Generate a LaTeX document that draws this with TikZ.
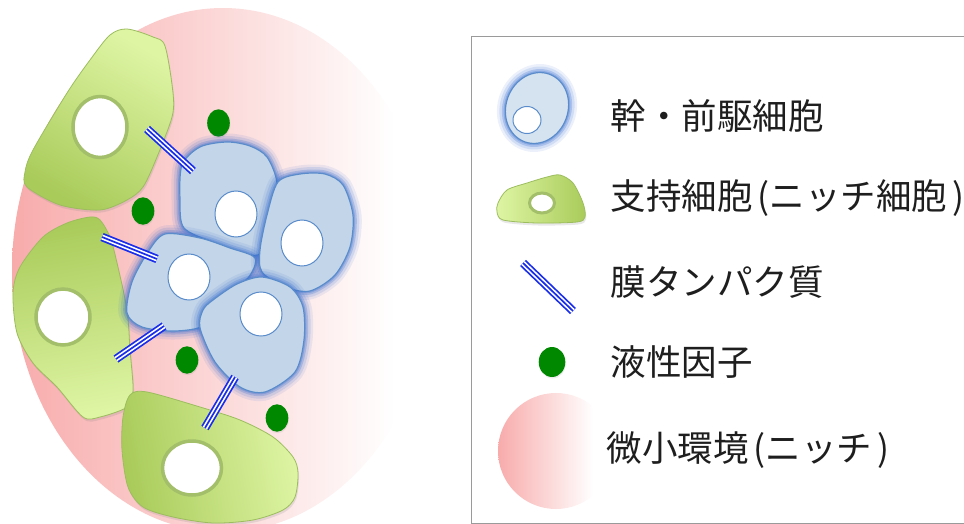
\documentclass[tikz,border=0pt]{standalone}
\usepackage{fontspec}
\setmainfont{Noto Sans CJK JP}
\usetikzlibrary{shadows}

\definecolor{nichepink}{HTML}{F8ABAB}
\definecolor{nichelight}{HTML}{DEF5A4}
\definecolor{nichedark}{HTML}{A9CB5A}
\definecolor{nicheline}{HTML}{9CBD5E}
\definecolor{ringgreen}{HTML}{A3BF6A}
\definecolor{stemfill}{HTML}{C3D5E8}
\definecolor{stemline}{HTML}{5A8CCB}
\definecolor{stemglow}{HTML}{3A6FD0}
\definecolor{factorgreen}{HTML}{008800}
\definecolor{protblue}{HTML}{1A2EEA}
\definecolor{boxgray}{HTML}{9A9A9A}
\definecolor{textgray}{HTML}{1E1E1E}

\begin{document}
\begin{tikzpicture}[x=1pt,y=-1pt,
        niche cell/.style={draw=nicheline,line width=0.8pt,
          drop shadow={opacity=0.18,shadow xshift=1pt,shadow yshift=-2.5pt}},
        stem cell/.style={
          preaction={draw=stemglow,line width=17pt,draw opacity=0.1,line join=round},
          preaction={draw=stemglow,line width=12pt,draw opacity=0.15,line join=round},
          preaction={draw=stemglow,line width=7pt,draw opacity=0.25,line join=round},
          preaction={draw=stemglow,line width=3.5pt,draw opacity=0.3,line join=round},
          fill=stemfill,draw=stemline,line width=1.2pt},
        nucleus/.style={fill=white,draw=ringgreen,line width=3.5pt},
        stem nucleus/.style={fill=white,draw=stemline,line width=1pt},
        factor/.style={fill=factorgreen,
          drop shadow={opacity=0.15,shadow xshift=0.5pt,shadow yshift=-1.5pt}},
        protein/.style={draw=protblue,line width=8.5pt,
          postaction={draw=white,line width=5pt},
          postaction={draw=protblue,line width=1.7pt}},
        legend text/.style={anchor=west,text=textgray,font=\fontsize{35.5}{42}\selectfont}]
        \useasboundingbox (0,0) rectangle (964,524);
        \clip (0,0) rectangle (964,524);

        % niche (pink area)
        \begin{scope}
          \clip (223,270) ellipse (211 and 262);
          \shade[left color=nichepink,right color=white] (12,0) rectangle (395,524);
        \end{scope}

        % supporting cells
        \shade[niche cell,top color=nichelight,bottom color=nichedark,shading angle=-30]
          plot[smooth cycle] coordinates {(127,29) (153,37) (165,46) (173,93) (172,117)
            (157,157) (143,187) (127,200) (100,210) (60,205) (27,187) (25,172) (33,150)
            (67,93) (90,60) (110,35)};
        \shade[niche cell,top color=nichedark,bottom color=nichelight,shading angle=10]
          plot[smooth cycle] coordinates {(90,217) (100,220) (110,237) (117,263) (127,310)
            (130,350) (133,390) (127,407) (100,417) (83,417) (57,387) (33,363) (17,333)
            (13,293) (20,267) (43,237) (67,223)};
        \shade[niche cell,top color=nichedark,bottom color=nichelight,shading angle=100]
          plot[smooth cycle] coordinates {(130,395) (147,392) (200,407) (240,420) (273,437)
            (293,457) (298,473) (295,497) (283,510) (253,520) (213,523) (173,517)
            (143,507) (128,487) (122,450) (123,417)};
        \filldraw[nucleus] (100,127) ellipse (27 and 30.5);
        \filldraw[nucleus] (63,317) ellipse (27 and 28);
        \filldraw[nucleus] (192,468) ellipse (29.5 and 27);

        % soluble factors
        \fill[factor] (218.5,123) ellipse (11.3 and 13.7);
        \fill[factor] (143,211) ellipse (11.3 and 13.7);
        \fill[factor] (187,360) ellipse (11.3 and 13.7);
        \fill[factor] (277,418) ellipse (11.3 and 13.7);

        % stem / progenitor cells
        \filldraw[stem cell] plot[smooth cycle] coordinates {(227,142) (250,146) (267,157)
          (277,183) (272,215) (262,252) (245,254) (215,243) (184,228) (180,200) (182,165) (200,147)};
        \filldraw[stem cell] plot[smooth cycle] coordinates {(165,234) (200,238) (230,248)
          (255,258) (248,278) (222,298) (205,325) (175,331) (142,327) (127,313) (132,282) (148,252)};
        \filldraw[stem cell] plot[smooth cycle] coordinates {(278,182) (300,174) (325,174)
          (343,185) (353,215) (350,247) (335,275) (310,291) (285,287) (262,272) (260,250) (267,215)};
        \filldraw[stem cell] plot[smooth cycle] coordinates {(213,300) (237,284) (262,277)
          (290,287) (303,307) (304,340) (295,372) (265,392) (240,387) (215,362) (200,328) (203,310)};
        \filldraw[stem nucleus] (236,214) ellipse (21 and 23);
        \filldraw[stem nucleus] (302,243) ellipse (21 and 23);
        \filldraw[stem nucleus] (189,277) ellipse (21 and 23);
        \filldraw[stem nucleus] (261,314) ellipse (21 and 22);

        % membrane proteins
        \coordinate (p1a) at (147,129);
        \coordinate (p1b) at (193,171);
        \coordinate (p2a) at (102,237);
        \coordinate (p2b) at (157,259);
        \coordinate (p3a) at (116,359);
        \coordinate (p3b) at (164,326);
        \coordinate (p4a) at (205,428);
        \coordinate (p4b) at (235,377);
        \draw[protein] (p1a) -- (p1b);
        \draw[protein] (p2a) -- (p2b);
        \draw[protein] (p3a) -- (p3b);
        \draw[protein] (p4a) -- (p4b);

        % legend
        \draw[boxgray,line width=1pt] (471,37) rectangle (980,523);

        \filldraw[stem cell,fill=stemfill!70!white,rotate around={-20:(537,108)}]
          (537,108) ellipse (31 and 36);
        \filldraw[stem nucleus] (527,120) ellipse (14 and 13.5);

        \shade[niche cell,top color=nichelight,bottom color=nichedark,shading angle=90]
          plot[smooth cycle] coordinates {(498,203) (507,190) (527,183) (547,177) (560,175)
            (573,183) (583,203) (585,217) (577,222) (537,223) (503,220) (497,212)};
        \filldraw[nucleus,line width=3pt] (542,203) ellipse (12.5 and 10);

        \coordinate (l3a) at (523,263);
        \coordinate (l3b) at (573,311);
        \draw[protein] (l3a) -- (l3b);

        \fill[factor] (552,362) ellipse (13.3 and 15);

        \begin{scope}
          \clip (556,451) circle (58);
          \shade[left color=nichepink,right color=white] (498,393) rectangle (593,510);
        \end{scope}

        \node[legend text] (t1) at (607,116) {幹・前駆細胞};
        \node[legend text] (t2) at (607,198) {支持細胞\kern5pt(ニッチ細胞\kern5pt)};
        \node[legend text] (t3) at (607,282) {膜タンパク質};
        \node[legend text] (t4) at (607,362) {液性因子};
        \node[legend text] (t5) at (603,450) {微小環境\kern5pt(ニッチ\kern5pt)};
\end{tikzpicture}
\end{document}
